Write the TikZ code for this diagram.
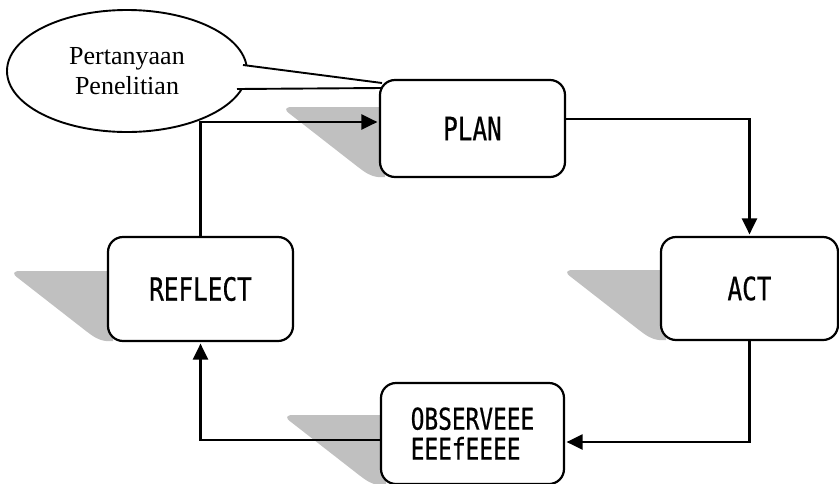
\documentclass[tikz,border=0pt]{standalone}
\usepackage{fontspec}
\setmainfont{Liberation Serif}
\newfontfamily\gothic[FakeStretch=0.76,FakeBold=0.6]{DejaVu Sans Mono}
\usetikzlibrary{arrows.meta,shapes.geometric,calc}
\definecolor{shad}{RGB}{192,192,192}
\begin{document}
\begin{tikzpicture}[x=1pt,y=-1pt,
  stepbox/.style={draw,line width=2.2pt,rounded corners=15pt,fill=white,
    font=\gothic\fontsize{32}{28}\selectfont,inner sep=0pt},
  conn/.style={line width=2.2pt},
  arr/.style={conn,-{Triangle[length=16pt,width=15pt]},shorten >=1.5pt}]
\useasboundingbox (0,0) rectangle (839,483);
% shadows
\foreach \L/\B in {380/177,108/341,661/340,381/485}{
  \fill[shad] ({\L-88},{\B-70}) -- ({\L+5},{\B-70}) -- ({\L+5},{\B}) -- ({\L-2},{\B})
    .. controls ({\L-10},{\B-1}) and ({\L-14},{\B-4}) .. ({\L-22},{\B-10})
    -- ({\L-90},{\B-63}) .. controls ({\L-96},{\B-67}) and ({\L-95},{\B-70}) .. ({\L-88},{\B-70}) -- cycle;
}
% callout
\node[draw,ellipse,line width=1.9pt,minimum width=240pt,minimum height=122pt,inner sep=0pt,
  font=\fontsize{26}{30}\selectfont,align=center,fill=white] (Q) at (127,71) {Pertanyaan\\Penelitian};
\coordinate (t1) at (243,65);
\coordinate (t2) at (237,89);
\coordinate (t3) at (382,83);
\coordinate (t4) at (382,88);
\fill[white] (t1) -- (t3) -- (t4) -- (t2) -- cycle;
\draw[line width=1.9pt] (t1) -- (t3);
\draw[line width=1.9pt] (t2) -- (t4);
% boxes
\node[stepbox,minimum width=185pt,minimum height=97pt] (PLAN) at (472.5,128.5) {PLAN};
\node[stepbox,minimum width=177pt,minimum height=103pt] (ACT) at (749.5,288.5) {ACT};
\node[stepbox,minimum width=185pt,minimum height=104pt] (REFLECT) at (200.5,289) {REFLECT};
\node[stepbox,minimum width=183pt,minimum height=101pt,align=left,
  font=\gothic\fontsize{30}{30}\selectfont] (OBS) at (472.5,433.5) {OBSERVEEE\\EEEfEEEE};
% connectors
\draw[arr] ([yshift=9.5pt]PLAN.east) -| (ACT.north);
\draw[arr] (ACT.south) |- ([yshift=-8.5pt]OBS.east);
\draw[arr] ([yshift=-6.5pt]OBS.west) -| (REFLECT.south);
\draw[arr] (REFLECT.north) |- ([yshift=6.5pt]PLAN.west);
\end{tikzpicture}
\end{document}
